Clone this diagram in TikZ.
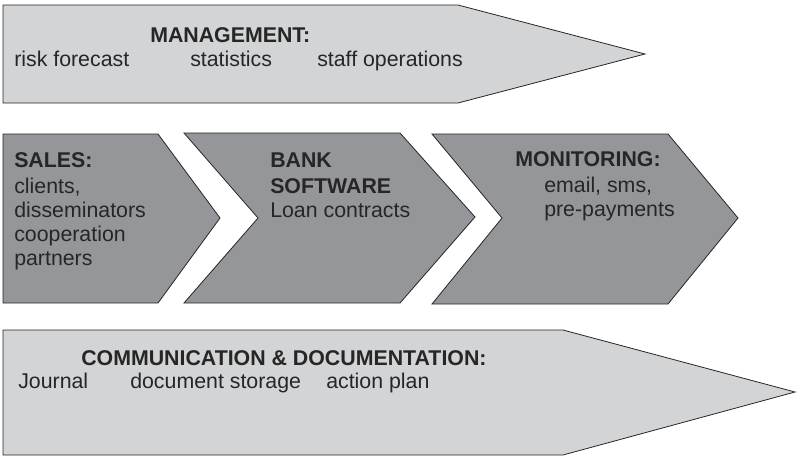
\documentclass[tikz,border=0pt]{standalone}
\usepackage{fontspec}
\setmainfont{Liberation Sans}
\usepackage{xcolor}
\definecolor{lightband}{RGB}{211,212,214}
\definecolor{darkband}{RGB}{148,150,153}

\begin{document}
\begin{tikzpicture}[x=0.75pt,y=-0.75pt,
    band/.style={draw=black!85,line width=0.6pt},
    lbl/.style={anchor=base west,inner sep=0pt,text=black!85,
      font=\fontsize{16}{19}\selectfont},
    hd/.style={lbl,font=\fontsize{16}{19}\selectfont\bfseries}]
  \useasboundingbox (0,0) rectangle (799,457);

  % management
  \draw[band,fill=lightband] (3,5) -- (458,5) -- (645,54) -- (458,103)
    -- (3,103) -- cycle;
  \node (mg) [hd] at (150,42) {MANAGEMENT:};
  \node (rf) [lbl] at (14,66) {risk forecast};
  \node (st) [lbl] at (190,66) {statistics};
  \node (so) [lbl] at (317,66) {staff operations};

  % process chain
  \draw[band,fill=darkband] (3,134) -- (158,134) -- (220,218) -- (158,303)
    -- (3,303) -- cycle;
  \draw[band,fill=darkband] (184,133) -- (400,133) -- (475,217) -- (400,303)
    -- (184,303) -- (258,218) -- cycle;
  \draw[band,fill=darkband] (432,134) -- (668,134) -- (738,218) -- (668,304)
    -- (432,304) -- (502,218) -- cycle;
  \node (sa) [hd] at (14,167) {SALES:};
  \node (cl) [lbl] at (14,193) {clients,};
  \node (di) [lbl] at (14,217) {disseminators};
  \node (co) [lbl] at (14,241) {cooperation};
  \node (pa) [lbl] at (14,265) {partners};
  \node (bk) [hd] at (270,167) {BANK};
  \node (sw) [hd] at (270,193) {SOFTWARE};
  \node (lc) [lbl] at (270,217) {Loan contracts};
  \node (mo) [hd] at (515,166) {MONITORING:};
  \node (em) [lbl] at (544,192) {email, sms,};
  \node (pp) [lbl] at (544,216) {pre-payments};

  % communication
  \draw[band,fill=lightband] (3,330) -- (563,330) -- (795,392) -- (563,455)
    -- (3,455) -- cycle;
  \node (cd) [hd] at (81,365) {COMMUNICATION \& DOCUMENTATION:};
  \node (jo) [lbl] at (18,388) {Journal};
  \node (ds) [lbl] at (130,388) {document storage};
  \node (ap) [lbl] at (326,388) {action plan};
\end{tikzpicture}
\end{document}
